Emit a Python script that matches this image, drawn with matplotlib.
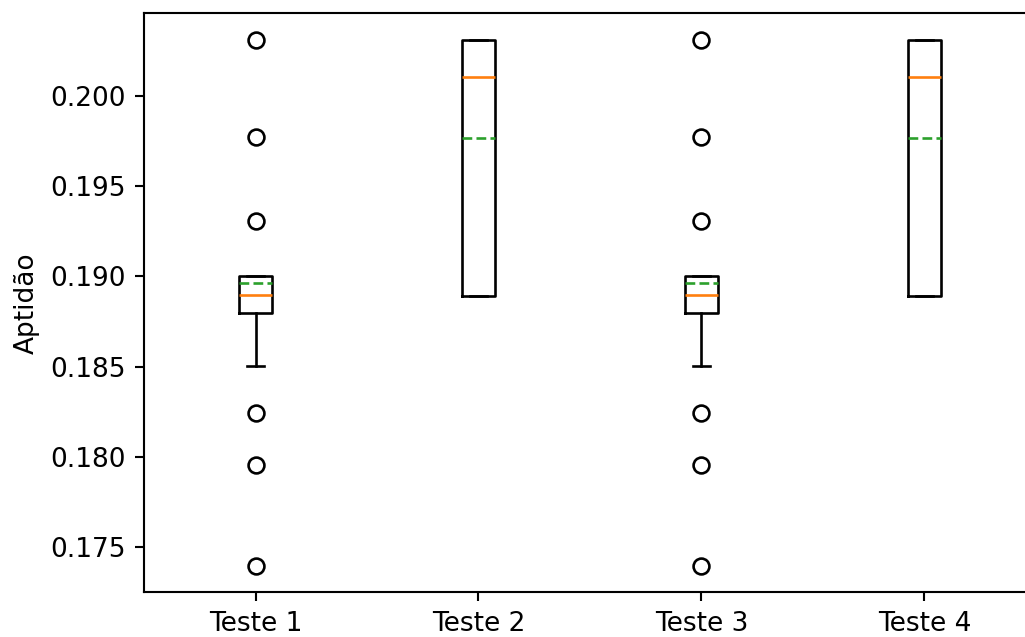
import matplotlib
matplotlib.use('Agg')
import matplotlib.pyplot as plt

# resumo estatistico de cada teste
testes = ['Teste 1', 'Teste 2', 'Teste 3', 'Teste 4']
q1 = [0.18798, 0.18892, 0.18798, 0.18892]
medianas = [0.18894, 0.20105, 0.18894, 0.20105]
q3 = [0.19001, 0.20310, 0.19001, 0.20310]
medias = [0.18964, 0.19766, 0.18964, 0.19766]
whis_min = [0.18505, 0.18892, 0.18505, 0.18892]
whis_max = [0.19001, 0.20310, 0.19001, 0.20310]
outliers = [
    [0.20308, 0.19772, 0.19305, 0.18245, 0.17957, 0.17397],
    [],
    [0.20308, 0.19772, 0.19305, 0.18245, 0.17957, 0.17397],
    [],
]

stats = []
for i, nome in enumerate(testes):
    stats.append({
        'label': nome,
        'q1': q1[i],
        'med': medianas[i],
        'q3': q3[i],
        'mean': medias[i],
        'whislo': whis_min[i],
        'whishi': whis_max[i],
        'fliers': outliers[i],
    })

dpi = 190
fig = plt.figure(figsize=(1025 / dpi, 637 / dpi), dpi=dpi)
ax = fig.add_axes([0.1405, 0.0706, 0.8702, 0.9084])
ax.bxp(stats, widths=0.15, showmeans=True, meanline=True)
ax.set_ylabel('Aptidão')

fig.savefig('out.png', dpi=dpi)
